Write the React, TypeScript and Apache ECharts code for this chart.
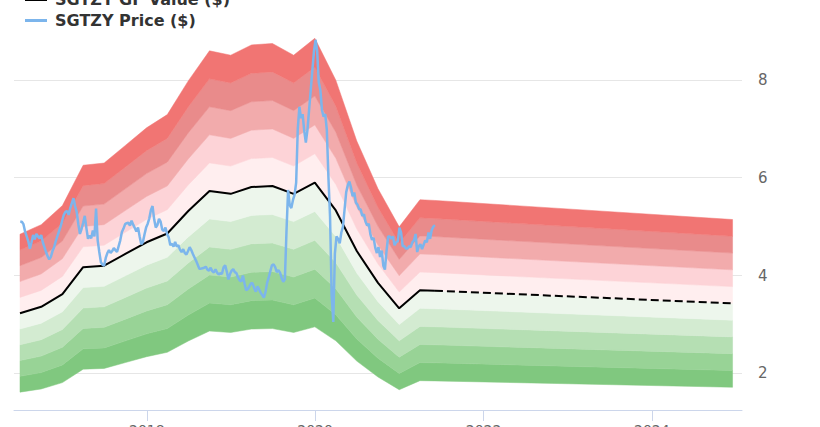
import React, { useEffect, useRef } from 'react';
import * as echarts from 'echarts';

// GF Value (quarterly) and projection
const gfDates = [
  '2016-06-30', '2016-09-30', '2016-12-31', '2017-03-31', '2017-06-30', '2017-09-30',
  '2017-12-31', '2018-03-31', '2018-06-30', '2018-09-30', '2018-12-31', '2019-03-31',
  '2019-06-30', '2019-09-30', '2019-12-31', '2020-03-31', '2020-06-30', '2020-09-30',
  '2020-12-31', '2021-03-31', '2021-06-04', '2024-12-16',
];
const gfValues = [
  3.23, 3.36, 3.62, 4.17, 4.2, 4.44,
  4.68, 4.86, 5.32, 5.73, 5.67, 5.81,
  5.83, 5.67, 5.9, 5.33, 4.5, 3.85,
  3.33, 3.7, 3.69, 3.43,
];
const gfSolidLastIndex = 20;

// band boundaries as multiples of GF value, bottom to top
const bandFactors = [0.5, 0.6, 0.7, 0.8, 0.9, 1.0, 1.1, 1.2, 1.3, 1.4, 1.5];
const bandColors = [
  '#80c87f', '#98d396', '#b5dfb3', '#d3ebd1', '#edf6ec',
  '#ffeeef', '#fdd3d7', '#f2abac', '#e98b8b', '#f17573',
];

// weekly price
const priceStart = '2016-07-01';
const priceStepDays = 7;
const priceValues = [
  5.10, 5.10, 5.05, 4.90, 4.80, 4.70, 4.55, 4.68, 4.83, 4.74,
  4.85, 4.80, 4.76, 4.83, 4.68, 4.58, 4.48, 4.39, 4.33, 4.38,
  4.50, 4.58, 4.70, 4.80, 4.90, 5.00, 5.12, 5.24, 5.30, 5.32,
  5.24, 5.38, 5.48, 5.58, 5.42, 5.30, 5.05, 4.85, 4.95, 5.08,
  5.22, 4.97, 4.75, 4.82, 4.76, 4.92, 4.80, 5.37, 4.72, 4.48,
  4.27, 4.22, 4.20, 4.36, 4.46, 4.52, 4.46, 4.50, 4.56, 4.52,
  4.48, 4.60, 4.72, 4.89, 4.96, 5.05, 5.07, 5.08, 5.02, 5.12,
  5.04, 4.97, 4.90, 4.98, 4.80, 4.64, 4.68, 4.84, 4.98, 5.06,
  5.17, 5.34, 5.42, 5.15, 4.98, 5.03, 5.16, 5.10, 4.94, 4.91,
  4.98, 4.85, 4.78, 4.62, 4.65, 4.59, 4.69, 4.59, 4.62, 4.53,
  4.48, 4.54, 4.46, 4.43, 4.50, 4.58, 4.52, 4.44, 4.37, 4.30,
  4.22, 4.14, 4.14, 4.15, 4.16, 4.18, 4.12, 4.10, 4.16, 4.09,
  4.06, 4.13, 4.06, 4.02, 4.05, 4.03, 4.17, 4.21, 4.08, 3.92,
  4.03, 4.10, 4.13, 4.07, 4.05, 3.96, 3.90, 3.88, 4.00, 3.84,
  3.70, 3.72, 3.78, 3.84, 3.84, 3.74, 3.67, 3.78, 3.72, 3.65,
  3.60, 3.55, 3.66, 3.85, 3.96, 4.09, 4.21, 4.23, 4.17, 4.07,
  4.11, 4.06, 3.95, 3.87, 3.92, 4.90, 5.75, 5.44, 5.38, 5.54,
  5.65, 5.90, 7.00, 7.45, 7.22, 7.30, 6.96, 6.72, 6.98, 7.38,
  7.78, 8.18, 8.57, 8.82, 8.60, 7.95, 7.79, 7.38, 7.25, 7.30,
  6.98, 6.00, 5.20, 3.60, 3.05, 4.45, 4.80, 4.75, 4.66, 4.88,
  5.00, 5.35, 5.70, 5.85, 5.92, 5.80, 5.62, 5.70, 5.49, 5.45,
  5.36, 5.35, 5.22, 5.25, 5.10, 5.02, 5.06, 4.84, 4.73, 4.77,
  4.57, 4.46, 4.58, 4.38, 4.51, 4.20, 4.12, 4.50, 4.80, 4.80,
  4.75, 4.80, 4.62, 4.68, 4.70, 4.98, 4.88, 4.60, 4.60, 4.55,
  4.55, 4.60, 4.58, 4.68, 4.72, 4.85, 4.48, 4.60, 4.64, 4.54,
  4.63, 4.72, 4.68, 4.88, 4.75, 4.93, 5.00, 5.03,
];

const yTicks = [2, 4, 6, 8];
const xTickDates = ['2018-01-01', '2020-01-01', '2022-01-01', '2024-01-01'];
const xMin = '2016-06-04';
const xMax = '2025-01-26';

const toTs = (s: string) => {
  const [y, m, d] = s.split('-').map(Number);
  return new Date(y, m - 1, d).getTime();
};

export default function App() {
  const ref = useRef<HTMLDivElement>(null);
  useEffect(() => {
    if (!ref.current) return;
    const chart = echarts.init(ref.current, null, { renderer: 'svg' });
    const gfTs = gfDates.map(toTs);
    const startTs = toTs(priceStart);
    const priceData = priceValues.map((v, i) => [startTs + i * priceStepDays * 86400000, v]);
    const xTicks = xTickDates.map(toTs);

    const bandRender = (params: any, api: any) => {
      const k = params.dataIndex;
      const lo = bandFactors[k];
      const hi = bandFactors[k + 1];
      const upper = gfValues.map((g, j) => api.coord([gfTs[j], g * hi]));
      const lower = gfValues.map((g, j) => api.coord([gfTs[j], g * lo])).reverse();
      return {
        type: 'polygon',
        shape: { points: upper.concat(lower) },
        style: { fill: bandColors[k], stroke: bandColors[k], lineWidth: 0.5 },
        silent: true,
      };
    };

    const option: any = {
      animation: false,
      grid: { left: 14, right: 78, top: 31, bottom: 17, containLabel: false, outerBoundsMode: 'none' },
      legend: {
        orient: 'vertical',
        left: 25,
        top: -9,
        padding: 0,
        itemGap: 4,
        itemWidth: 22,
        itemHeight: 3,
        icon: 'rect',
        selectedMode: false,
        textStyle: {
          fontFamily: 'DejaVu Sans',
          fontSize: 16,
          fontWeight: 'bold',
          color: '#333333',
          lineHeight: 17,
          padding: [0, 0, 0, 3],
        },
        data: [
          { name: 'SGTZY GF Value ($)', itemStyle: { color: '#000000' } },
          { name: 'SGTZY Price ($)', itemStyle: { color: '#7cb5ec' } },
        ],
      },
      xAxis: {
        type: 'value',
        min: toTs(xMin),
        max: toTs(xMax),
        axisLine: { show: true, onZero: false, lineStyle: { color: '#ccd6eb', width: 1 } },
        axisTick: {
          show: true,
          length: 11,
          customValues: xTicks,
          lineStyle: { color: '#ccd6eb' },
        },
        axisLabel: {
          customValues: xTicks,
          formatter: (v: number) => String(new Date(v).getFullYear()),
          color: '#666666',
          fontSize: 14,
          fontFamily: 'DejaVu Sans',
          margin: 13,
        },
        splitLine: { show: false },
      },
      yAxis: {
        type: 'value',
        position: 'right',
        min: 1.25,
        max: 9,
        axisLine: { show: false },
        axisTick: { show: false, customValues: yTicks },
        axisLabel: {
          customValues: yTicks,
          color: '#666666',
          fontSize: 15,
          fontFamily: 'DejaVu Sans',
          margin: 16,
        },
        splitLine: { show: true, lineStyle: { color: '#e6e6e6', width: 1 } },
      },
      series: [
        {
          type: 'custom',
          name: 'bands',
          z: 1,
          silent: true,
          renderItem: bandRender,
          data: bandColors.map((_, k) => [gfTs[0], gfValues[0] * bandFactors[k]]),
        },
        {
          type: 'line',
          name: 'SGTZY GF Value ($)',
          symbol: 'none',
          z: 3,
          color: '#000000',
          lineStyle: { color: '#000000', width: 2 },
          data: gfValues.slice(0, gfSolidLastIndex + 1).map((v, j) => [gfTs[j], v]),
        },
        {
          type: 'line',
          name: 'GF projection',
          symbol: 'none',
          z: 3,
          color: '#000000',
          lineStyle: { color: '#000000', width: 2, type: [8, 4] },
          data: gfValues.slice(gfSolidLastIndex).map((v, j) => [gfTs[j + gfSolidLastIndex], v]),
        },
        {
          type: 'line',
          name: 'SGTZY Price ($)',
          symbol: 'none',
          z: 4,
          color: '#7cb5ec',
          lineStyle: { color: '#7cb5ec', width: 2.5 },
          data: priceData,
        },
      ],
    };
    chart.setOption(option);
    return () => chart.dispose();
  }, []);
  return (
    <div
      ref={ref}
      style={{ position: 'fixed', left: 0, top: 0, width: 820, height: 427, background: '#ffffff' }}
    />
  );
}
